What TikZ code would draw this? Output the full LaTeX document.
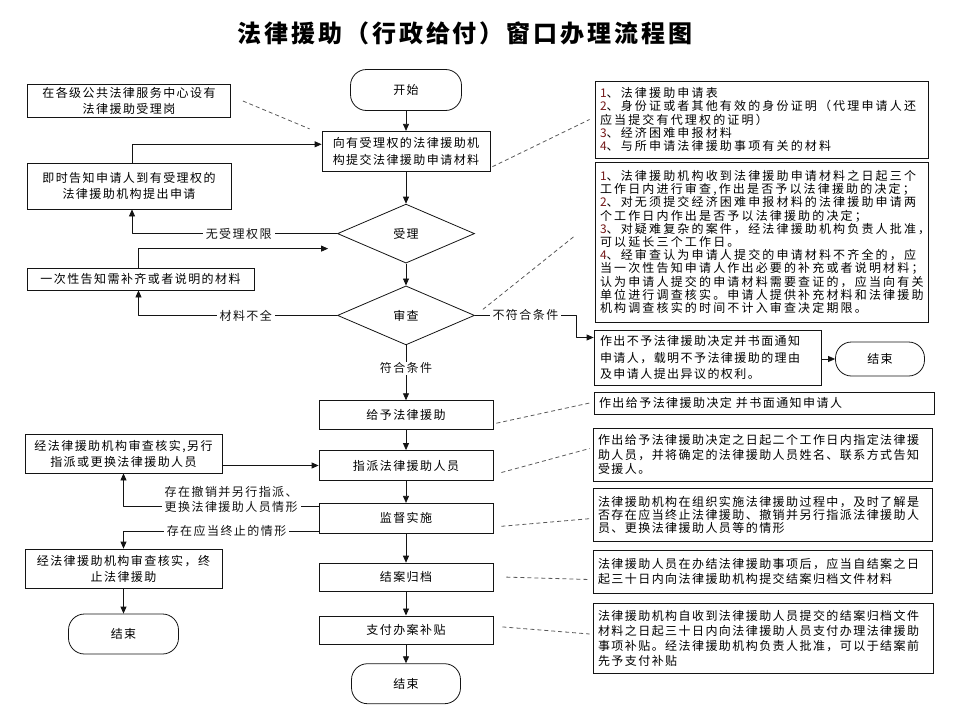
\documentclass[tikz,border=0pt]{standalone}
\usepackage{fontspec}
\setmainfont{Noto Sans CJK SC}[LetterSpace=12]
\usepackage{tikz}
\usetikzlibrary{arrows.meta, positioning, shapes.geometric}
\usepackage{xcolor}
\definecolor{LineBlack}{gray}{0.08}
\definecolor{NoteGray}{gray}{0.35}
\definecolor{NumRed}{RGB}{115,25,25}
\newcommand{\itemno}[1]{\textcolor{NumRed}{#1}}
\tikzset{%
  flow_block/.style={%
    rectangle,%
    draw=LineBlack,%
    line width=0.8pt,%
    minimum width=174pt,%
    minimum height=30pt,%
    inner sep=2pt,%
    font={\fontsize{12}{17}\selectfont},%
    align=center%
  },
  flow_decision/.style={%
    diamond,%
    draw=LineBlack,%
    line width=0.8pt,%
    minimum width=137pt,%
    minimum height=59pt,%
    inner sep=0pt,%
    font={\fontsize{12}{14}\selectfont},%
  },
  flow_end/.style={%
    rectangle,%
    rounded corners=16pt,%
    draw=LineBlack,%
    line width=0.8pt,%
    font={\fontsize{12}{14}\selectfont},%
  },
  side_block/.style={%
    rectangle,%
    draw=LineBlack,%
    line width=0.8pt,%
    inner sep=2pt,%
    font={\fontsize{12}{16}\selectfont},%
    align=center%
  },
  note_block/.style={%
    rectangle,%
    draw=LineBlack,%
    line width=0.8pt,%
    inner xsep=5pt,%
    inner ysep=2pt,%
    font={\fontsize{12}{14.5}\selectfont},%
    align=left%
  },
  flow_path/.style={%
    color=LineBlack,%
    line width=0.8pt,%
    line join=round,%
  },
  note_path/.style={%
    color=NoteGray,%
    line width=0.8pt,%
    dash pattern=on 4pt off 3pt,%
  },
  flow_label/.style={%
    fill=white,%
    inner xsep=3pt,%
    inner ysep=1pt,%
    font={\fontsize{12}{15}\selectfont},%
    align=left,%
  },
  arrow/.style={-{Triangle[length=7pt, width=6pt]}},
}
\begin{document}
\begin{tikzpicture}[x=1pt, y=-1pt]
\useasboundingbox (0,0) rectangle (960,720);

          \node [font={\fontsize{24}{26}\selectfont\bfseries}] (title) at (465,33) {法律援助（行政给付）窗口办理流程图};

          \node [flow_end, minimum width=111pt, minimum height=41pt] (start) at (406,90) {开始};
          \node [flow_block, below = 20pt of start, minimum width=168pt, minimum height=40pt] (apply) {向有受理权的法律援助机\\构提交法律援助申请材料};
          \node [flow_decision, below = 32pt of apply] (accept) {受理};
          \node [flow_decision, below = 22pt of accept] (review) {审查};
          \node [flow_block, below = 55pt of review, minimum height=29pt] (grant) {给予法律援助};
          \node [flow_block, below = 20pt of grant] (assign) {指派法律援助人员};
          \node [flow_block, below = 22pt of assign] (supervise) {监督实施};
          \node [flow_block, below = 29pt of supervise, minimum height=28pt] (archive) {结案归档};
          \node [flow_block, below = 24pt of archive, minimum height=28pt] (subsidy) {支付办案补贴};
          \node [flow_end, below = 19pt of subsidy, minimum width=109pt, minimum height=40pt] (finish) {结束};

          \node [side_block, minimum width=203pt, minimum height=33pt] (desk) at (129,101) {在各级公共法律服务中心设有\\法律援助受理岗};
          \node [side_block, minimum width=204pt, minimum height=46pt] (notify) at (129,186) {即时告知申请人到有受理权的\\法律援助机构提出申请};
          \node [side_block, minimum width=227pt, minimum height=22pt] (inform) at (140.5,279) {一次性告知需补齐或者说明的材料};
          \node [side_block, minimum width=197pt, minimum height=39pt] (reassign) at (123.5,453.5) {经法律援助机构审查核实,另行\\指派或更换法律援助人员};
          \node [side_block, minimum width=197pt, minimum height=39pt] (terminate) at (123.5,568.5) {经法律援助机构审查核实，终\\止法律援助};
          \node [flow_end, minimum width=110pt, minimum height=40pt] (end_left) at (123.5,634) {结束};

          \node [note_block, text width=323pt, minimum height=77pt, font={\fontsize{12}{13.3}\selectfont\addfontfeatures{LetterSpace=18}}] (materials_note) at (761.5,119.5) {\itemno{1}、法律援助申请表\\\itemno{2}、身份证或者其他有效的身份证明（代理申请人还\\应当提交有代理权的证明）\\\itemno{3}、经济困难申报材料\\\itemno{4}、与所申请法律援助事项有关的材料};
          \node [note_block, text width=323pt, minimum height=160pt, font={\fontsize{12}{13.2}\selectfont\addfontfeatures{LetterSpace=18}}] (rules_note) at (761.5,242) {\itemno{1}、法律援助机构收到法律援助申请材料之日起三个\\工作日内进行审查,作出是否予以法律援助的决定；\\\itemno{2}、对无须提交经济困难申报材料的法律援助申请两\\个工作日内作出是否予以法律援助的决定；\\\itemno{3}、对疑难复杂的案件，经法律援助机构负责人批准，\\可以延长三个工作日。\\\itemno{4}、经审查认为申请人提交的申请材料不齐全的，应\\当一次性告知申请人作出必要的补充或者说明材料；\\认为申请人提交的申请材料需要查证的，应当向有关\\单位进行调查核实。申请人提供补充材料和法律援助\\机构调查核实的时间不计入审查决定期限。};
          \node [note_block, text width=215pt, inner xsep=6pt, minimum height=55pt, font={\fontsize{12}{16.5}\selectfont}] (reject) at (707.5,357.5) {作出不予法律援助决定并书面通知\\申请人，载明不予法律援助的理由\\及申请人提出异议的权利。};
          \node [flow_end, minimum width=89pt, minimum height=34pt] (end_right) at (880,359) {结束};
          \node [note_block, text width=330pt, minimum height=22pt] (grant_note) at (764,403) {作出给予法律援助决定 并书面通知申请人};
          \node [note_block, text width=329pt, minimum height=53pt] (assign_note) at (762.5,454.5) {作出给予法律援助决定之日起二个工作日内指定法律援\\助人员，并将确定的法律援助人员姓名、联系方式告知\\受援人。};
          \node [note_block, text width=329pt, minimum height=53pt, font={\fontsize{12}{13}\selectfont}] (supervise_note) at (762.5,514.5) {法律援助机构在组织实施法律援助过程中，及时了解是\\否存在应当终止法律援助、撤销并另行指派法律援助人\\员、更换法律援助人员等的情形};
          \node [note_block, text width=329pt, minimum height=43pt, font={\fontsize{12}{15}\selectfont}] (archive_note) at (762.5,571.5) {法律援助人员在办结法律援助事项后，应当自结案之日\\起三十日内向法律援助机构提交结案归档文件材料};
          \node [note_block, text width=330pt, minimum height=70pt, font={\fontsize{12}{15}\selectfont}] (subsidy_note) at (763,638) {法律援助机构自收到法律援助人员提交的结案归档文件\\材料之日起三十日内向法律援助人员支付办理法律援助\\事项补贴。经法律援助机构负责人批准，可以于结案前\\先予支付补贴};

          \draw [arrow, flow_path] (start) -- (apply);
          \draw [arrow, flow_path] (apply) -- (accept);
          \draw [arrow, flow_path] (accept) -- (review);
          \draw [arrow, flow_path]
            (review.south)
            --
            node [flow_label, pos=0.42] {符合条件}
            (grant.north);
          \draw [arrow, flow_path] (grant) -- (assign);
          \draw [arrow, flow_path] (assign) -- (supervise);
          \draw [arrow, flow_path] (supervise) -- (archive);
          \draw [arrow, flow_path] (archive) -- (subsidy);
          \draw [arrow, flow_path] (subsidy) -- (finish);

          \draw [arrow, flow_path]
            ([xshift=3pt]notify.north)
            |-
            ([yshift=7pt]apply.west);
          \draw [arrow, flow_path]
            (accept.west)
            -|
            node [flow_label, pos=0.24] {无受理权限}
            ([xshift=3pt]notify.south);
          \draw [arrow, flow_path]
            ([xshift=-2pt]inform.north)
            |-
            ([xshift=-9pt, yshift=-15pt]accept.west);
          \draw [arrow, flow_path]
            (review.west)
            -|
            node [flow_label, pos=0.23] {材料不全}
            ([xshift=-2pt]inform.south);
          \draw [arrow, flow_path]
            (review.east)
            --
            node [flow_label] {不符合条件}
            ++(101,0)
            |-
            ([yshift=20pt]reject.west);
          \draw [arrow, flow_path] (reject.east |- end_right.west) -- (end_right.west);

          \draw [arrow, flow_path] (reassign.east |- assign.west) -- (assign.west);
          \draw [arrow, flow_path]
            ([yshift=12pt]supervise.west)
            -|
            node [flow_label, pos=0.224, yshift=7pt] {存在撤销并另行指派、\\更换法律援助人员情形}
            (reassign.south);
          \draw [arrow, flow_path]
            ([yshift=-13pt]supervise.west)
            -|
            node [flow_label, pos=0.236] {存在应当终止的情形}
            (terminate.north);
          \draw [arrow, flow_path] (terminate) -- (end_left);

          \draw [note_path] ([xshift=12pt]desk.east) -- ([xshift=-12pt, yshift=2pt]apply.north west);
          \draw [note_path] ([xshift=2pt, yshift=5pt]apply.south east) -- ([xshift=-5pt]materials_note.west);
          \draw [note_path] ([xshift=8pt, yshift=6pt]review.east) -- ([xshift=-20pt, yshift=6pt]rules_note.west);
          \draw [note_path] ([xshift=3pt, yshift=-8pt]grant.east) -- ([xshift=-4pt]grant_note.west);
          \draw [note_path] ([xshift=8pt, yshift=-7pt]assign.east) -- ([xshift=-3pt, yshift=6pt]assign_note.west);
          \draw [note_path] ([xshift=8pt, yshift=-8pt]supervise.east) -- ([xshift=-1pt, yshift=-4pt]supervise_note.west);
          \draw [note_path] ([xshift=13pt]archive.east) -- ([xshift=-3pt, yshift=-8pt]archive_note.west);
          \draw [note_path] ([xshift=9pt, yshift=3pt]subsidy.east) -- ([xshift=-3pt, yshift=4pt]subsidy_note.west);
        \end{tikzpicture}
\end{document}
